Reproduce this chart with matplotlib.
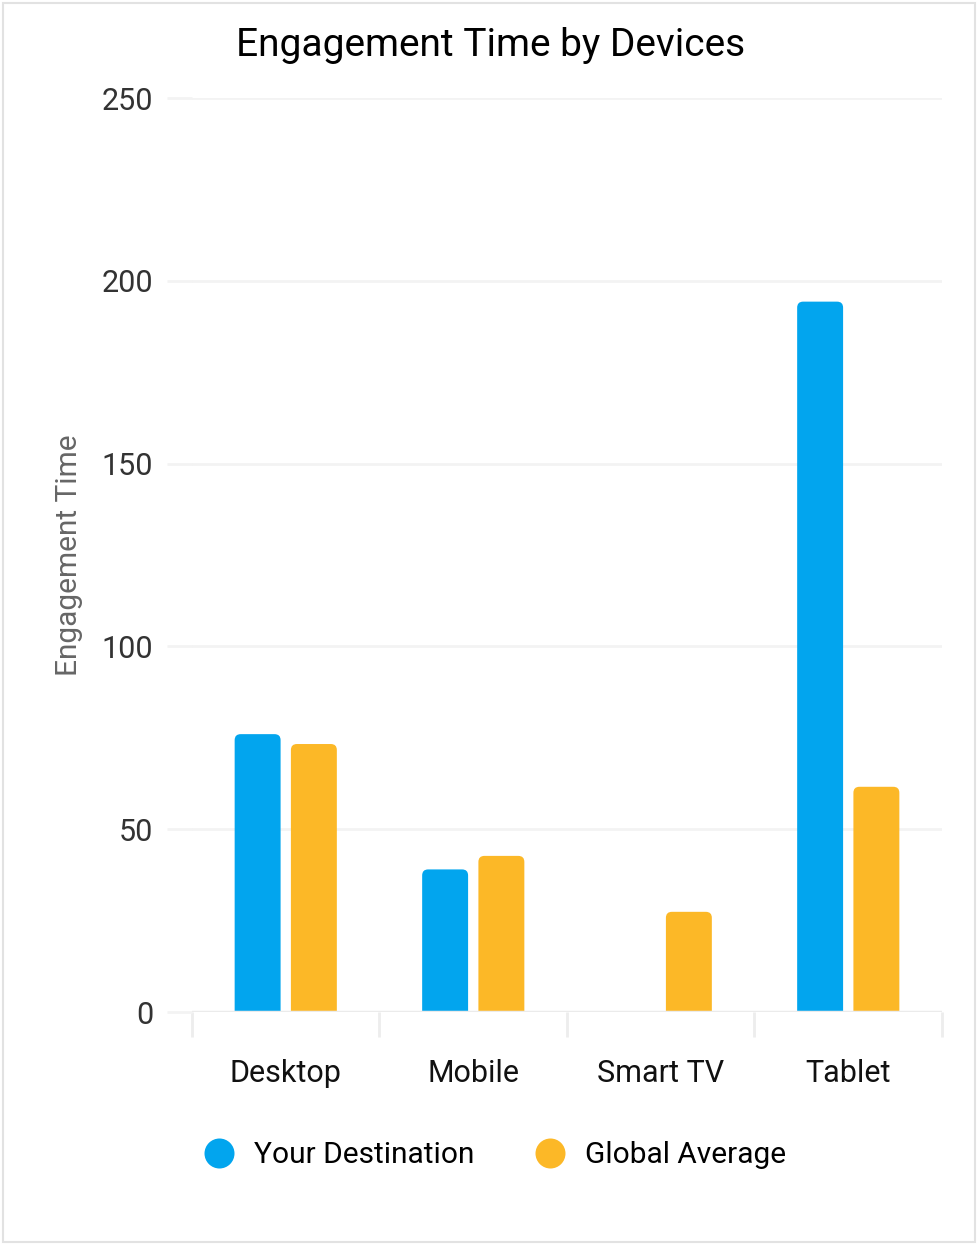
import matplotlib
matplotlib.use("Agg")
import matplotlib.pyplot as plt
from matplotlib.patches import FancyBboxPatch, Rectangle
from matplotlib.lines import Line2D
import numpy as np

plt.rcParams['font.family'] = ['Roboto', 'DejaVu Sans']

# engagement time per device
devices = ['Desktop', 'Mobile', 'Smart TV', 'Tablet']
your_destination = [76.0, 39.0, 0.0, 194.3]
global_average = [73.3, 42.7, 27.4, 61.6]
y_ticks = [0, 50, 100, 150, 200, 250]

blue = '#02a5ee'
amber = '#fcb827'
grid_col = '#f3f3f3'

W, H = 978, 1245
fig = plt.figure(figsize=(W / 100, H / 100), dpi=100)
fig.patch.set_facecolor('white')

# card outline
fig.patches.append(Rectangle((3 / W, 3 / H), 972 / W, 1239 / H, transform=fig.transFigure,
                             fill=False, edgecolor='#e2e2e2', linewidth=1.5))

ax = fig.add_axes([192 / W, 233 / H, 750 / W, 914 / H])
ax.set_xlim(-0.5, 3.5)
ax.set_ylim(0, 250)

x = np.arange(len(devices))
bar_w = 0.245
offset = 0.150

# px per data unit, used to keep the corner rounding circular
px_x = 750 / 4.0
px_y = 914 / 250.0
r_px = 6.0
aspect = px_x / px_y


def rounded_bar(xc, h, color):
    if h <= 0:
        return
    # start below zero so only the top corners show rounded
    p = FancyBboxPatch((xc - bar_w / 2, -10), bar_w, h + 10,
                       boxstyle=f"round,pad=0,rounding_size={r_px / px_x}",
                       mutation_aspect=aspect, facecolor=color, edgecolor='none',
                       zorder=3)
    ax.add_patch(p)


for i in range(len(devices)):
    rounded_bar(x[i] - offset, your_destination[i], blue)
    rounded_bar(x[i] + offset, global_average[i], amber)

# grid
for yv in y_ticks[1:]:
    ax.axhline(yv, color=grid_col, linewidth=2, zorder=1)
ax.axhline(0, color='#ebebeb', linewidth=2.5, zorder=4)

for s in ax.spines.values():
    s.set_visible(False)

ax.set_yticks(y_ticks)
ax.set_yticklabels([str(v) for v in y_ticks], fontsize=22, color='#333333')
ax.tick_params(axis='y', length=18, width=2, color=grid_col, pad=10)

# category boundary ticks
ax.set_xticks(np.arange(-0.5, 4.0, 1.0), minor=False)
ax.set_xticklabels([])
ax.tick_params(axis='x', which='major', length=18, width=2, color='#ededed')
ax.set_xticks(x, minor=True)
ax.set_xticklabels(devices, minor=True, fontsize=22, color='#111111')
ax.tick_params(axis='x', which='minor', length=0, pad=34)

ax.set_ylabel('Engagement Time', fontsize=21.5, color='#666666', labelpad=13)

fig.text(491 / W, 1 - 45 / H, 'Engagement Time by Devices', fontsize=28,
         ha='center', va='center', color='#000000')

handles = [Line2D([], [], marker='o', linestyle='none', markersize=21.6,
                  markerfacecolor=blue, markeredgecolor='none'),
           Line2D([], [], marker='o', linestyle='none', markersize=21.6,
                  markerfacecolor=amber, markeredgecolor='none')]
fig.legend(handles, ['Your Destination', 'Global Average'], loc='center',
           bbox_to_anchor=(495 / W, 1 - 1155 / H), ncol=2, frameon=False,
           fontsize=21.5, handlelength=1.0, handletextpad=0.67, columnspacing=2.04)

fig.savefig('out.png', dpi=100, facecolor='white')
